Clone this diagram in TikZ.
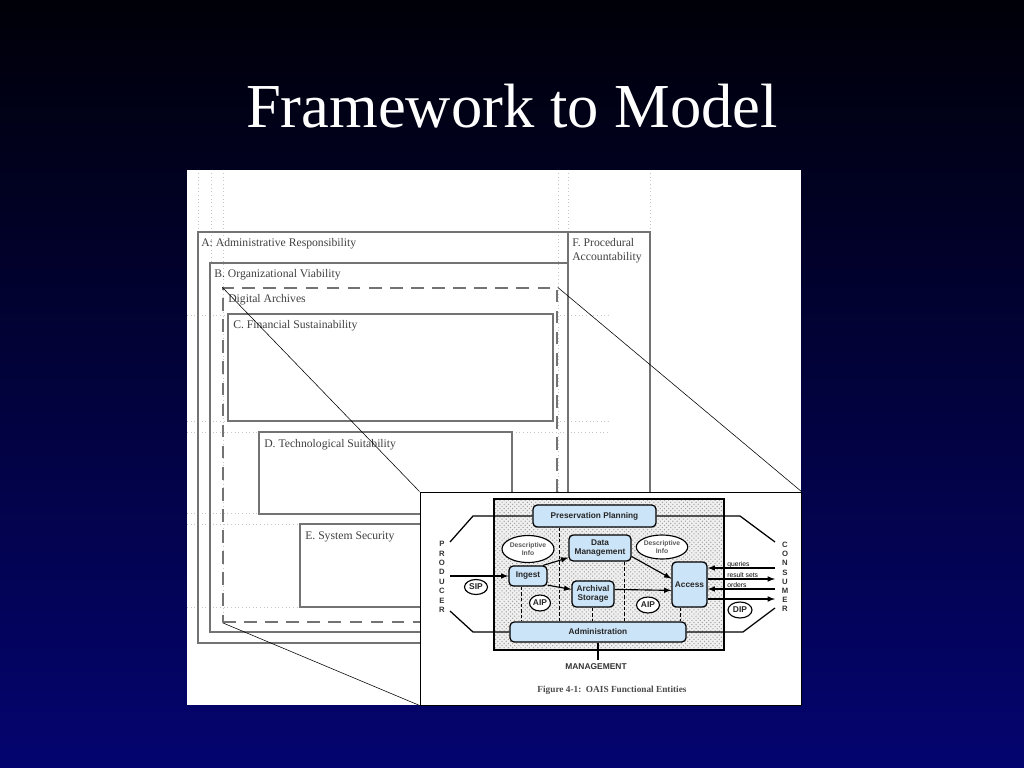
\documentclass[tikz,border=0pt]{standalone}
\usepackage{fontspec}
\usepackage{ifthen}
\setmainfont{Liberation Serif}
\setsansfont{Liberation Sans}
\usetikzlibrary{arrows,shapes.geometric,patterns}

\definecolor{oaisblue}{RGB}{204,228,247}
\definecolor{framegray}{RGB}{115,115,115}
\definecolor{slidetop}{RGB}{0,0,8}
\definecolor{slidebot}{RGB}{4,4,112}

\begin{document}
\begin{tikzpicture}[x=0.025cm,y=-0.025cm,
	fw/.style={draw=framegray,line width=0.8pt},
	fwtext/.style={anchor=base west,inner sep=0pt,text=black!75,font=\fontsize{8.3}{10}\selectfont},
	grid/.style={dotted,gray!45,line width=0.6pt},
	entity/.style={draw=black,line width=0.9pt,fill=oaisblue,rounded corners=3pt,inner sep=0pt,align=center,text=black!85,font=\sffamily\bfseries\fontsize{5.9}{6.3}\selectfont},
	blob/.style={ellipse,draw=black,line width=0.8pt,fill=white,inner sep=0pt,align=center,text=black!85,font=\sffamily\bfseries\fontsize{6}{6}\selectfont},
	letter/.style={inner sep=0pt,font=\sffamily\bfseries\fontsize{5.5}{6}\selectfont,text=black!80},
	flow/.style={-latex,line width=0.8pt},
	tiny/.style={anchor=base west,inner sep=0pt,font=\sffamily\fontsize{4.8}{5}\selectfont}]
	% slide
	\shade[top color=slidetop,bottom color=slidebot] (0,0) rectangle (1024,768);
	\node[anchor=base,text=white,font=\fontsize{44.5}{50}\selectfont] (title) at (512,128) {Framework to Model};
	\fill[white] (187,170) rectangle (801,705);

	% framework
	\foreach \x/\y in {198/232,211/263,223/622,558/622,568/232,650/232}
		\draw[grid] (\x,173) -- (\x,\y);
	\foreach \y/\a/\b in {315/187/228,315/553/610,421/187/228,421/553/610,432/187/259,432/512/610,513/187/259,524/187/300,607/187/300}
		\draw[grid] (\a,\y) -- (\b,\y);
	\draw[fw] (198,232) rectangle (650,643);
	\draw[fw] (568,232) -- (568,643);
	\draw[fw] (210,263) rectangle (568,632);
	\node[draw=framegray,line width=0.9pt,dash pattern=on 9pt off 6pt,minimum width=8.35cm,minimum height=8.35cm,inner sep=0pt] (da) at (390,455) {};
	\draw[fw] (228,314) rectangle (553,421);
	\draw[fw] (259,432) rectangle (512,514);
	\draw[fw] (300,524) rectangle (450,607);
	\node[fwtext] (ta) at (201,246) {A: Administrative Responsibility};
	\node[fwtext] (tf) at (572,246) {F. Procedural};
	\node[fwtext] (tf2) at (572,260) {Accountability};
	\node[fwtext] (tb) at (214,277) {B. Organizational Viability};
	\node[fwtext] (tda) at (228,302) {Digital Archives};
	\node[fwtext] (tc) at (233,328) {C. Financial Sustainability};
	\node[fwtext] (td) at (264,447) {D. Technological Suitability};
	\node[fwtext] (te) at (305,539) {E. System Security};

	% OAIS inset
	\node[draw=black,fill=white,line width=0.6pt,minimum width=9.525cm,minimum height=5.325cm,inner sep=0pt] (inset) at (610.5,598.5) {};
	\draw[thin] (da.north west) -- (inset.north west);
	\draw[thin] (da.north east) -- (inset.north east);
	\draw[thin] (da.south west) -- (inset.south west);
	\fill[gray!12] (494,499) rectangle (724,650);
	\fill[pattern=crosshatch dots,pattern color=gray!75] (494,499) rectangle (724,650);
	\draw[line width=0.8pt] (494,499) rectangle (724,650);

	\node[entity,minimum width=3.075cm,minimum height=0.55cm] (pp) at (594.5,516) {Preservation Planning};
	\node[entity,minimum width=1.55cm,minimum height=0.65cm] (dm) at (600,548) {Data\\Management};
	\node[entity,minimum width=0.95cm,minimum height=0.5cm] (ingest) at (528,576) {Ingest};
	\node[entity,minimum width=1.05cm,minimum height=0.65cm] (as) at (593,594) {Archival\\Storage};
	\node[entity,minimum width=0.875cm,minimum height=1.125cm] (access) at (689.5,584.5) {Access};
	\node[entity,minimum width=4.4cm,minimum height=0.5cm] (adm) at (598,632) {Administration};
	\node[blob,minimum width=1.3cm,minimum height=0.675cm,text=black!65,font=\sffamily\bfseries\fontsize{4.8}{5.6}\selectfont] (di1) at (528,549) {Descriptive\\Info};
	\node[blob,minimum width=1.25cm,minimum height=0.6cm,text=black!65,font=\sffamily\bfseries\fontsize{4.8}{5.6}\selectfont] (di2) at (662,547) {Descriptive\\Info};
	\node[blob,minimum width=0.525cm,minimum height=0.4cm] (aip1) at (540,603) {AIP};
	\node[blob,minimum width=0.575cm,minimum height=0.4cm] (aip2) at (648,605) {AIP};
	\node[blob,minimum width=0.575cm,minimum height=0.375cm] (sip) at (476,587) {SIP};
	\node[blob,minimum width=0.6cm,minimum height=0.4cm] (dip) at (740,610) {DIP};

	\foreach \c [count=\i from 0] in {P,R,O,D,U,C,E,R}
		\node[letter] (prod\i) at (442,{544+9.43*\i}) {\c};
	\foreach \c [count=\i from 0] in {C,O,N,S,U,M,E,R}
		\node[letter] (cons\i) at (785,{545+9.14*\i}) {\c};

	% producer / consumer links
	\coordinate (ptop) at (450,542);
	\coordinate (pbot) at (450,611);
	\coordinate (pin) at (450,576);
	\coordinate (ctop) at (775,542);
	\coordinate (cbot) at (775,608);
	\draw[line width=0.9pt] (ptop) -- (473,516) -- (pp.west);
	\draw[line width=0.9pt] (pbot) -- (473,632) -- (adm.west);
	\draw[line width=0.9pt] (pp.east) -- (740,516) -- (ctop);
	\draw[line width=0.9pt] (adm.east) -- (743,632) -- (cbot);
	\draw[flow] (pin) -- (ingest.west);

	% flows
	\draw[flow] (ingest.35) -- (dm.197);
	\draw[flow] (ingest.-25) -- (as.168);
	\draw[flow] (dm.-15) -- (access.162);
	\draw[flow] (as.12) -- (access.198);
	\foreach \y/\dir/\t in {568/in/queries,579/out/result sets,589/in/orders,599/out/}{
		\coordinate (c\y) at (775,\y);
		\ifthenelse{\equal{\dir}{in}}
			{\draw[flow] (c\y) -- (c\y -| access.east);}
			{\draw[flow] (c\y -| access.east) -- (c\y);}
		\node[tiny] at (727,\y-1.5) {\t};
	}

	% dashed ties to administration
	\foreach \x/\n in {521/ingest,559/pp,592/as,624/dm,680/access}
		\draw[line width=0.6pt,dash pattern=on 2.5pt off 1.5pt] (\n.south -| \x,0) -- (adm.north -| \x,0);

	\node[letter,font=\sffamily\bfseries\fontsize{6}{6}\selectfont] (mgmt) at (596,667) {MANAGEMENT};
	\draw[line width=0.9pt,shorten >=3pt] (adm.south -| 598,0) -- (mgmt.north -| 598,0);
	\node[anchor=base,inner sep=0pt,font=\bfseries\fontsize{6.6}{7}\selectfont,text=black!70] (cap) at (612,692) {Figure 4-1:\ \ OAIS Functional Entities};
\end{tikzpicture}
\end{document}
